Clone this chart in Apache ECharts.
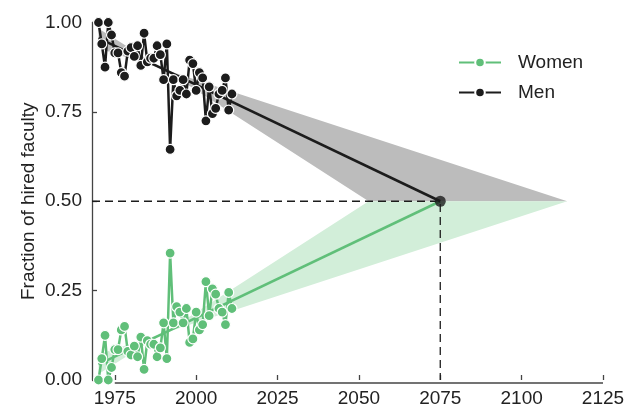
<!DOCTYPE html>
<html>
<head>
<meta charset="utf-8">
<script src="https://cdn.jsdelivr.net/npm/echarts@6/dist/echarts.min.js"></script>
<style>
html,body{margin:0;padding:0;background:#fff;}
#chart{width:639px;height:410px;}
</style>
</head>
<body>
<div id="chart"></div>
<script>
// ---- data ----
var years = [1970,1971,1972,1973,1974,1975,1976,1977,1978,1979,1980,1981,1982,1983,1984,1985,1986,1987,1988,1989,1990,1991,1992,1993,1994,1995,1996,1997,1998,1999,2000,2001,2002,2003,2004,2005,2006,2007,2008,2009,2010,2011];
var women = [0.00,0.06,0.125,0.00,0.035,0.085,0.085,0.14,0.15,0.08,0.07,0.095,0.065,0.12,0.03,0.11,0.10,0.10,0.065,0.09,0.16,0.06,0.355,0.16,0.205,0.19,0.16,0.20,0.105,0.115,0.19,0.14,0.155,0.275,0.18,0.255,0.24,0.20,0.19,0.155,0.245,0.20];
var men   = [1.00,0.94,0.875,1.00,0.965,0.915,0.915,0.86,0.85,0.92,0.93,0.905,0.935,0.88,0.97,0.89,0.90,0.90,0.935,0.91,0.84,0.94,0.645,0.84,0.795,0.81,0.84,0.80,0.895,0.885,0.81,0.86,0.845,0.725,0.82,0.745,0.76,0.80,0.81,0.845,0.755,0.80];
var womenTrend = [[1970,0.044],[2075,0.5]];
var menTrend   = [[1970,0.956],[2075,0.5]];
var parityYear = 2075;
var parityValue = 0.5;
// band outlines (upper edge then lower edge, going back)
var menBand   = [[1970,0.983],[1990,0.869],[2114,0.5],[2053,0.5],[1990,0.869],[1970,0.928]];
var womenBand = [[1970,0.017],[1990,0.131],[2114,0.5],[2053,0.5],[1990,0.131],[1970,0.072]];
var xTicks = [1975,2000,2025,2050,2075,2100,2125];
var yTicks = [0,0.25,0.5,0.75,1.0];

var GREEN = '#60bf79', GREEN_BAND = '#d2eed9', BLACK = '#1c1c1c', GRAY_BAND = '#bcbcbc', AXIS = '#444';
var FONT = 'Liberation Sans';
var AXIS_OFFSET = 3;

function zip(xs, ys){ return xs.map(function(x,i){ return [x, ys[i]]; }); }

function bandSeries(poly, color){
  return {
    type:'custom', silent:true, z:1,
    data:[0],
    renderItem:function(params, api){
      var pts = poly.map(function(p){ return api.coord(p); });
      return {type:'polygon', shape:{points:pts}, style:{fill:color, stroke:null}};
    }
  };
}

var chart = echarts.init(document.getElementById('chart'), null, {renderer:'canvas'});
chart.setOption({
  animation:false,
  textStyle:{fontFamily:FONT},
  grid:{left:92, right:36, top:22.5, bottom:30},
  legend:{
    data:['Women','Men'], orient:'vertical', left:458, top:53, padding:0,
    itemWidth:42, itemHeight:12, itemGap:11,
    textStyle:{fontFamily:FONT, fontSize:19, color:'#222', padding:[0,0,0,12]}
  },
  xAxis:{
    type:'value', min:1968, max:2125, offset:AXIS_OFFSET,
    axisLine:{show:false},
    axisTick:{show:true, inside:true, length:5, customValues:xTicks, lineStyle:{color:AXIS, width:1.3}},
    axisLabel:{customValues:xTicks, fontFamily:FONT, fontSize:19, color:'#222', margin:6, formatter:function(v){return String(v);}},
    splitLine:{show:false}
  },
  yAxis:{
    type:'value', min:0, max:1, interval:0.25,
    name:'Fraction of hired faculty', nameLocation:'middle', nameGap:54, nameMoveOverlap:false,
    nameTextStyle:{fontFamily:FONT, fontSize:19, color:'#222'},
    axisLine:{show:true, lineStyle:{color:AXIS, width:1.3}},
    axisTick:{show:true, inside:true, length:5, lineStyle:{color:AXIS, width:1.3}},
    axisLabel:{fontFamily:FONT, fontSize:19, color:'#222', margin:10, formatter:function(v){return v.toFixed(2);}},
    splitLine:{show:false}
  },
  series:[
    bandSeries(menBand, GRAY_BAND),
    bandSeries(womenBand, GREEN_BAND),
    {
      type:'custom', silent:true, z:1, data:[0],
      renderItem:function(params, api){
        var a = api.coord([xTicks[0], 0]), b = api.coord([xTicks[xTicks.length-1], 0]);
        return {type:'line', shape:{x1:a[0], y1:a[1]+AXIS_OFFSET, x2:b[0], y2:b[1]+AXIS_OFFSET}, style:{stroke:AXIS, lineWidth:1.3}};
      }
    },
    {
      type:'line', silent:true, z:2, symbol:'none',
      data:[[1968,parityValue],[parityYear,parityValue],[parityYear,0]],
      lineStyle:{color:BLACK, width:1.3, type:[8,5]}
    },
    {type:'line', silent:true, z:3, symbol:'none', data:womenTrend, lineStyle:{color:GREEN, width:2.5}},
    {type:'line', silent:true, z:3, symbol:'none', data:menTrend, lineStyle:{color:BLACK, width:2.5}},
    {
      name:'Women', type:'line', z:4, data:zip(years, women),
      symbol:'circle', symbolSize:10,
      lineStyle:{color:GREEN, width:2.5}, itemStyle:{color:GREEN, borderColor:'#fff', borderWidth:1.2}
    },
    {
      name:'Men', type:'line', z:4, data:zip(years, men),
      symbol:'circle', symbolSize:10,
      lineStyle:{color:BLACK, width:2.5}, itemStyle:{color:BLACK, borderColor:'#fff', borderWidth:1.2}
    },
    {
      type:'scatter', silent:true, z:5, data:[[parityYear, parityValue]],
      symbolSize:11, itemStyle:{color:BLACK}
    }
  ]
});
</script>
</body>
</html>
